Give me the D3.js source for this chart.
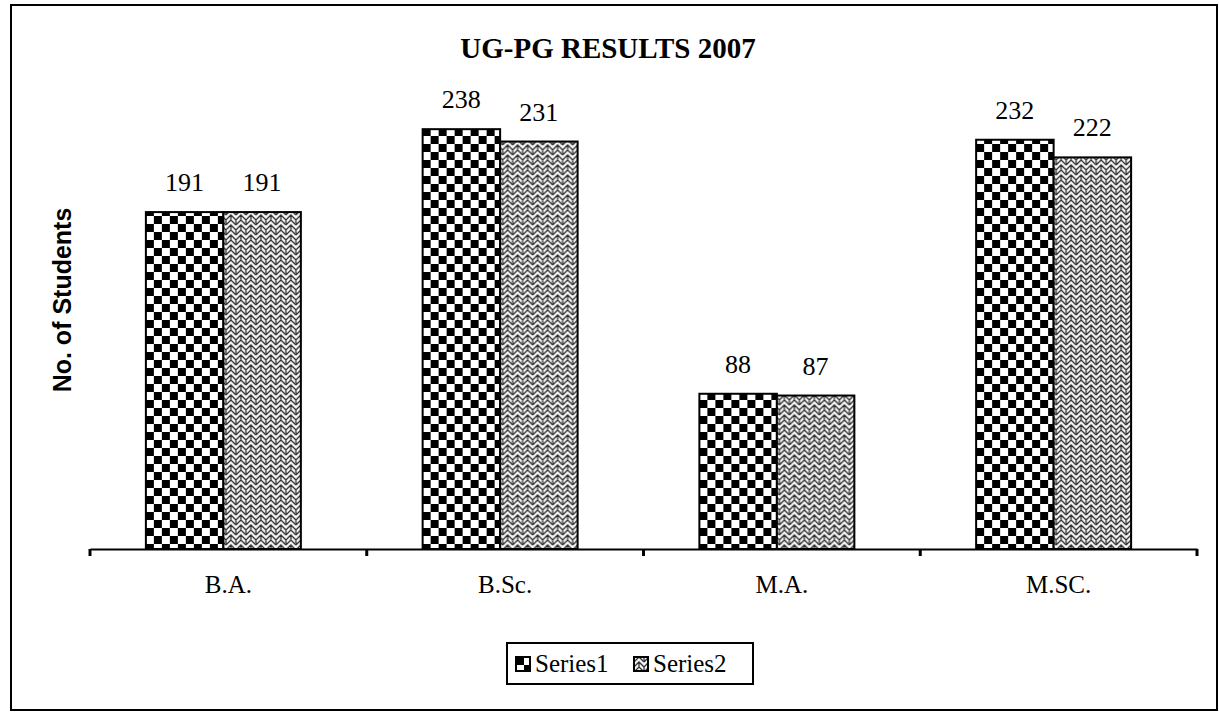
<!DOCTYPE html>
<html>
<head>
<meta charset="utf-8">
<script src="https://cdn.jsdelivr.net/npm/d3@7"></script>
<style>
  body { margin: 0; background: #fff; }
  svg { display: block; }
</style>
</head>
<body>
<svg id="chart" width="1219" height="719"></svg>
<script>
// chart values
const categories = ["B.A.", "B.Sc.", "M.A.", "M.SC."];
const seriesNames = ["Series1", "Series2"];
const series1 = [191, 238, 88, 232];
const series2 = [191, 231, 87, 222];
const chartTitle = "UG-PG RESULTS 2007";
const yTitle = "No. of Students";

const svg = d3.select("#chart");
const defs = svg.append("defs");

// checkerboard fill for Series1
const chk = defs.append("pattern")
    .attr("id", "pat1")
    .attr("patternUnits", "userSpaceOnUse")
    .attr("width", 16).attr("height", 16);
chk.append("rect").attr("width", 16).attr("height", 16).attr("fill", "#fff");
chk.append("rect").attr("width", 8).attr("height", 8).attr("fill", "#000");
chk.append("rect").attr("x", 8).attr("y", 8).attr("width", 8).attr("height", 8).attr("fill", "#000");

// herringbone-ish fill for Series2
const zz = defs.append("pattern")
    .attr("id", "pat2")
    .attr("patternUnits", "userSpaceOnUse")
    .attr("width", 10).attr("height", 10);
zz.append("rect").attr("width", 10).attr("height", 10).attr("fill", "#f4f4f4");
zz.append("path")
    .attr("d", "M0,10 L5,5 L10,10 M0,5 L5,0 L10,5 M5,5 L5,10 M0,0 L0,5 M10,0 L10,5")
    .attr("stroke", "#333").attr("stroke-width", 1.3).attr("fill", "none");

// outer frame
svg.append("rect")
    .attr("x", 11).attr("y", 5).attr("width", 1206).attr("height", 705)
    .attr("fill", "none").attr("stroke", "#000").attr("stroke-width", 2);

const baseY = 549;
const x = d3.scaleBand().domain(categories).range([90, 1197])
    .paddingInner(0.44).paddingOuter(0.22);
const xs = d3.scaleBand().domain(seriesNames).range([0, x.bandwidth()]);
const y = d3.scaleLinear().domain([0, 250]).range([baseY, baseY - 250 * 1.764]);

const rows = categories.map((c, i) => ({cat: c, vals: [series1[i], series2[i]]}));

const g = svg.append("g");
const groups = g.selectAll("g.cat").data(rows).join("g")
    .attr("class", "cat")
    .attr("transform", d => `translate(${x(d.cat) - 5},0)`);

groups.selectAll("rect").data(d => d.vals.map((v, j) => ({s: seriesNames[j], v: v, j: j})))
    .join("rect")
    .attr("x", d => xs(d.s))
    .attr("y", d => y(d.v))
    .attr("width", xs.bandwidth())
    .attr("height", d => baseY - y(d.v))
    .attr("fill", d => d.j === 0 ? "url(#pat1)" : "url(#pat2)")
    .attr("stroke", "#000").attr("stroke-width", 2);

groups.selectAll("text.val").data(d => d.vals.map((v, j) => ({s: seriesNames[j], v: v})))
    .join("text")
    .attr("class", "val")
    .attr("x", d => xs(d.s) + xs.bandwidth() / 2)
    .attr("y", d => y(d.v) - 21)
    .attr("text-anchor", "middle")
    .style("font-family", "'Liberation Serif', serif")
    .style("font-size", "26px")
    .text(d => d.v);

// category axis, ticks pointing down
const axis = d3.axisBottom(x).tickSize(0).tickPadding(26);
const ax = svg.append("g").attr("transform", `translate(0,${baseY})`).call(axis);
ax.select(".domain").attr("stroke", "#000").attr("stroke-width", 2);
ax.selectAll("text")
    .style("font-family", "'Liberation Serif', serif")
    .style("font-size", "25px")
    .attr("fill", "#000");
const step = x.step();
ax.selectAll("line.sep").data(d3.range(categories.length + 1)).join("line")
    .attr("class", "sep")
    .attr("x1", i => 90 + i * step).attr("x2", i => 90 + i * step)
    .attr("y1", 0).attr("y2", 7)
    .attr("stroke", "#000").attr("stroke-width", 3);

// title
svg.append("text")
    .attr("x", 608).attr("y", 58)
    .attr("text-anchor", "middle")
    .style("font-family", "'Liberation Serif', serif")
    .style("font-size", "29px").style("font-weight", "bold")
    .text(chartTitle);

// y title
svg.append("text")
    .attr("transform", "translate(71,300) rotate(-90)")
    .attr("text-anchor", "middle")
    .style("font-family", "'Liberation Sans', Arial, sans-serif")
    .style("font-size", "25px").style("font-weight", "bold")
    .text(yTitle);

// legend
const leg = svg.append("g").attr("transform", "translate(507,643)");
leg.append("rect").attr("width", 246).attr("height", 41)
    .attr("fill", "#fff").attr("stroke", "#000").attr("stroke-width", 2);
const items = leg.selectAll("g.item").data(seriesNames).join("g")
    .attr("class", "item")
    .attr("transform", (d, i) => `translate(${9 + i * 118},14)`);
items.append("rect").attr("width", 14).attr("height", 14)
    .attr("fill", (d, i) => i === 0 ? "url(#pat1)" : "url(#pat2)")
    .attr("stroke", "#000").attr("stroke-width", 2);
items.append("text").attr("x", 19).attr("y", 15)
    .style("font-family", "'Liberation Serif', serif")
    .style("font-size", "25px")
    .text(d => d);
</script>
</body>
</html>
